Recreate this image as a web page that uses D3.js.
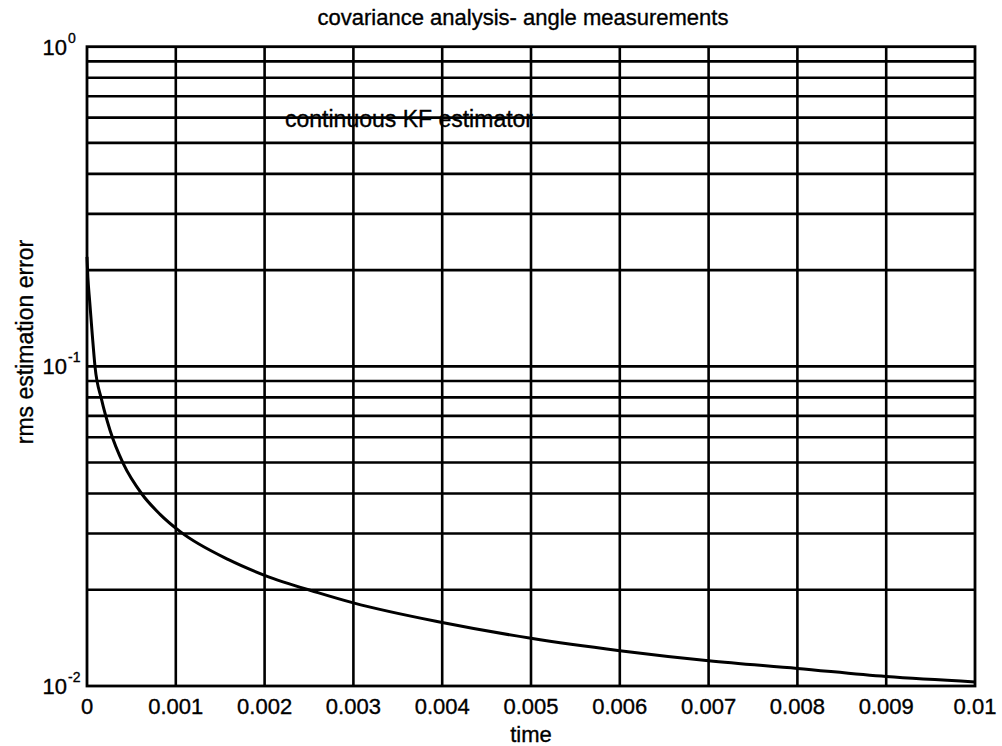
<!DOCTYPE html>
<html><head><meta charset="utf-8">
<script src="https://cdn.jsdelivr.net/npm/d3@7"></script>
<style>body{margin:0;background:#fff}svg{display:block}text{font-family:"Liberation Sans",Arial,sans-serif;fill:#000;stroke:#000;stroke-width:0.35px}</style>
</head><body><svg id="c" width="1002" height="746"></svg>
<script>
const title = "covariance analysis- angle measurements";
const xLabel = "time";
const yLabel = "rms estimation error";
const annotation = "continuous KF estimator";
const annotationPos = [0.00223, 0.56];
const xTicks = [0,0.001,0.002,0.003,0.004,0.005,0.006,0.007,0.008,0.009,0.01];
const xTickLabels = ["0","0.001","0.002","0.003","0.004","0.005","0.006","0.007","0.008","0.009","0.01"];
const yMajor = [0.01,0.1,1];
const yMajorExp = ["-2","-1","0"];
const yGrid = [0.02,0.03,0.04,0.05,0.06,0.07,0.08,0.09,0.1,0.2,0.3,0.4,0.5,0.6,0.7,0.8,0.9];
const time = [0,0.00001,0.00003,0.00006,0.00009,0.000165,0.00026,0.00041,0.00062,0.00082,0.00105,0.0016,0.002,0.0026,0.003,0.004,0.005,0.006,0.007,0.008,0.009,0.01];
const rmsErr = [0.22,0.19,0.16,0.125,0.1,0.0785,0.063,0.0495,0.0398,0.0345,0.0304,0.0248,0.0222,0.0196,0.0182,0.0158,0.0141,0.0129,0.0120,0.01135,0.0107,0.0103];

const L=87,T=46.7,R=975,B=686;
const svg=d3.select("#c");
const x=d3.scaleLinear().domain([0,0.01]).range([L,R]);
const y=d3.scaleLog().domain([0.01,1]).range([B,T]);

const g=svg.append("g");
g.selectAll("line.gx").data(xTicks.slice(1,-1)).join("line")
 .attr("x1",d=>x(d)).attr("x2",d=>x(d)).attr("y1",T).attr("y2",B)
 .attr("stroke","#000").attr("stroke-width",2.6);
g.selectAll("line.gy").data(yGrid).join("line")
 .attr("x1",L).attr("x2",R).attr("y1",d=>y(d)).attr("y2",d=>y(d))
 .attr("stroke","#000").attr("stroke-width",2.6);
svg.append("rect").attr("x",L).attr("y",T).attr("width",R-L).attr("height",B-T)
 .attr("fill","none").attr("stroke","#000").attr("stroke-width",2.8);

const line=d3.line().x((d,i)=>x(time[i])).y(d=>y(d)).curve(d3.curveMonotoneX);
svg.append("path").attr("d",line(rmsErr)).attr("fill","none").attr("stroke","#000").attr("stroke-width",3);

svg.selectAll("text.xt").data(xTicks).join("text")
 .attr("x",d=>x(d)).attr("y",714).attr("text-anchor","middle")
 .attr("font-size",22).text((d,i)=>xTickLabels[i]);
const yt=svg.selectAll("g.yt").data(yMajor).join("g").attr("transform",d=>`translate(0,${y(d)})`);
yt.append("text").attr("x",67).attr("y",8).attr("text-anchor","end").attr("font-size",22).text("10");
yt.append("text").attr("x",68).attr("y",-4).attr("text-anchor","start").attr("font-size",14).text((d,i)=>yMajorExp[i]);

svg.append("text").attr("x",523).attr("y",25).attr("text-anchor","middle").attr("font-size",22).text(title);
svg.append("text").attr("x",531).attr("y",742).attr("text-anchor","middle").attr("font-size",22).text(xLabel);
svg.append("text").attr("transform","translate(33,342) rotate(-90)").attr("text-anchor","middle").attr("font-size",23).text(yLabel);
svg.append("text").attr("x",x(annotationPos[0])).attr("y",y(annotationPos[1])).attr("font-size",23).text(annotation);
</script></body></html>
